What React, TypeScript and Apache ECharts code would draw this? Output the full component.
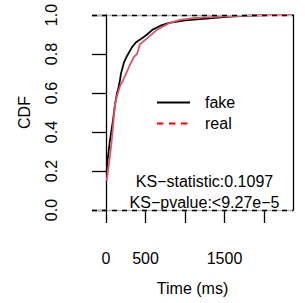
import React, { useEffect, useRef } from "react";
import * as echarts from "echarts";

const fakeX = [10, 13, 51, 89, 114, 140, 152, 177, 190, 228, 266, 330, 380, 470, 520, 590, 690, 800, 1000, 1190, 1380, 1570, 1820, 2080, 2367];
const fakeY = [0.2, 0.23, 0.36, 0.46, 0.54, 0.6, 0.615, 0.665, 0.7, 0.757, 0.79, 0.835, 0.86, 0.885, 0.9, 0.925, 0.945, 0.96, 0.972, 0.979, 0.985, 0.992, 0.997, 1.0, 1.0];
const realX = [9, 25, 51, 72, 89, 114, 139, 177, 215, 266, 304, 354, 392, 430, 520, 646, 810, 937, 1130, 1380, 1700, 2010, 2367];
const realY = [0.15, 0.2, 0.28, 0.355, 0.43, 0.54, 0.585, 0.635, 0.665, 0.71, 0.745, 0.785, 0.8, 0.85, 0.88, 0.925, 0.96, 0.975, 0.985, 0.99, 0.996, 1.0, 1.0];
const xTicks = [0, 500, 1000, 1500, 2000];
const xTickLabels = [0, 500, 1500];
const legendNames = ["fake", "real"];
const ksLines = ["KS\u2212statistic:0.1097", "KS\u2212pvalue:<9.27e\u22125"];

const FONT = "'Liberation Sans', Arial, sans-serif";

export default function App() {
  const ref = useRef<HTMLDivElement>(null);
  useEffect(() => {
    document.body.style.margin = "0";
    const chart = echarts.init(ref.current!, null, { renderer: "svg" });
    const fake = fakeX.map((x, i) => [x, fakeY[i]]);
    const real = realX.map((x, i) => [x, realY[i]]);
    chart.setOption({
      animation: false,
      backgroundColor: "#ffffff",
      textStyle: { fontFamily: FONT },
      grid: { left: 92, right: 12, top: 15, bottom: 93, containLabel: false },
      xAxis: {
        type: "value",
        min: -177,
        max: 2367,
        offset: 2,
        axisLine: { show: false },
        axisTick: { show: true, length: 13, customValues: xTicks, lineStyle: { color: "#000", width: 1.3 } },
        axisLabel: { customValues: xTickLabels, margin: 38, fontSize: 16, color: "#000", fontFamily: FONT, formatter: (v: number) => String(v) },
        splitLine: { show: false },
        name: "Time (ms)",
        nameLocation: "middle",
        nameGap: 68,
        nameTextStyle: { fontSize: 16, color: "#000", fontFamily: FONT },
      },
      yAxis: [
        {
          type: "value",
          min: 0,
          max: 1,
          interval: 0.2,
          axisLine: { show: true, lineStyle: { color: "#000", width: 1.3 } },
          axisTick: { show: true, length: 14, lineStyle: { color: "#000", width: 1.3 } },
          axisLabel: { rotate: 90, margin: 33, fontSize: 16, color: "#000", fontFamily: FONT, formatter: (v: number) => v.toFixed(1) },
          splitLine: { show: false },
          name: "CDF",
          nameLocation: "middle",
          nameGap: 60,
          nameTextStyle: { fontSize: 16, color: "#000", fontFamily: FONT },
        },
        {
          type: "value",
          position: "right",
          min: 0,
          max: 1,
          axisLine: { show: true, lineStyle: { color: "#000", width: 1.3 } },
          axisTick: { show: false },
          axisLabel: { show: false },
          splitLine: { show: false },
        },
      ],
      series: [
        {
          type: "line",
          data: [],
          silent: true,
          markLine: {
            silent: true,
            symbol: "none",
            label: { show: false },
            lineStyle: { color: "#b3b3b3", type: "solid", width: 1.3 },
            data: [{ yAxis: 0 }, { yAxis: 1 }],
          },
        },
        {
          type: "line",
          data: [],
          silent: true,
          markLine: {
            silent: true,
            symbol: "none",
            label: { show: false },
            lineStyle: { color: "#000", type: [5, 5], width: 1.3 },
            data: [{ yAxis: 0 }, { yAxis: 1 }],
          },
        },
        {
          name: "fake",
          type: "line",
          data: fake,
          showSymbol: false,
          lineStyle: { color: "#000", width: 1.8 },
          z: 3,
        },
        {
          name: "real",
          type: "line",
          data: real,
          showSymbol: false,
          lineStyle: { color: "#DF536B", width: 1.8 },
          z: 4,
        },
      ],
      graphic: [
        { type: "line", shape: { x1: 157, y1: 102.5, x2: 190, y2: 102.5 }, style: { stroke: "#000", lineWidth: 1.8 } },
        { type: "line", shape: { x1: 157, y1: 123.5, x2: 190, y2: 123.5 }, style: { stroke: "#ff0000", lineWidth: 1.8, lineDash: [6.5, 5.5] } },
        { type: "text", x: 205, y: 102.5, style: { text: legendNames[0], font: `16px ${FONT}`, fill: "#000", textVerticalAlign: "middle", textAlign: "left" } },
        { type: "text", x: 205, y: 123.5, style: { text: legendNames[1], font: `16px ${FONT}`, fill: "#000", textVerticalAlign: "middle", textAlign: "left" } },
        { type: "text", x: 204.5, y: 181.5, style: { text: ksLines[0], font: `16px ${FONT}`, fill: "#000", textVerticalAlign: "middle", textAlign: "center" } },
        { type: "text", x: 204.5, y: 202, style: { text: ksLines[1], font: `16px ${FONT}`, fill: "#000", textVerticalAlign: "middle", textAlign: "center" } },
      ],
    });
    return () => chart.dispose();
  }, []);
  return <div ref={ref} style={{ width: 305, height: 303 }} />;
}
